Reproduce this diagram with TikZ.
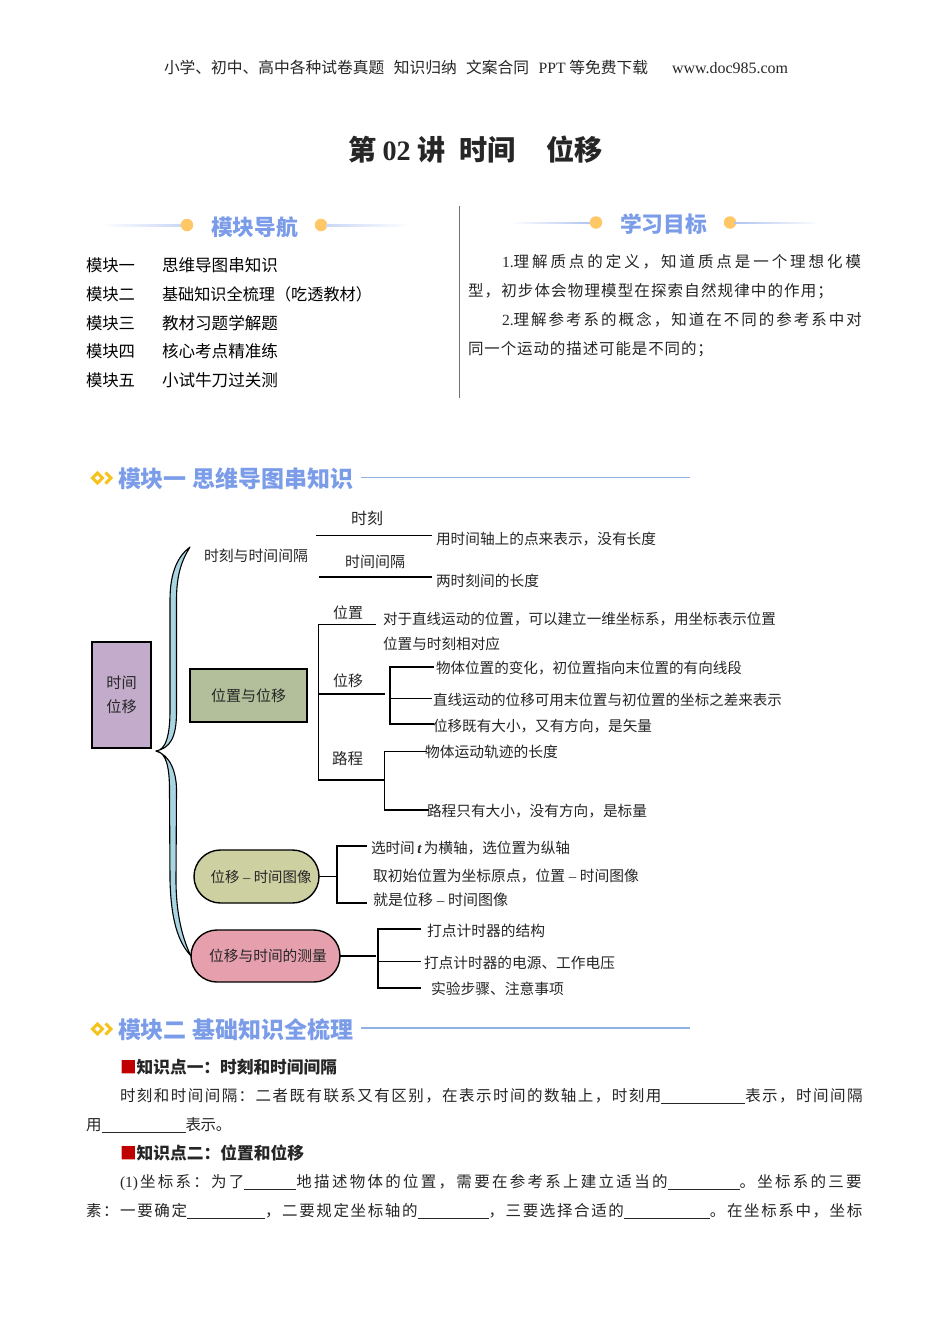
\documentclass[tikz,border=0pt]{standalone}
\usepackage{fontspec}
\usetikzlibrary{shapes.misc}
\setmainfont{Noto Sans CJK SC}
\newfontfamily\latf{Liberation Serif}
\newcommand\lat[1]{{\latf #1}}
\newcommand\blank[1]{\rule[-2.5pt]{#1pt}{0.7pt}}
\newsavebox\mb
\definecolor{headblue}{HTML}{7B9CE8}
\definecolor{linkblue}{HTML}{8FB2E2}
\definecolor{dotgold}{HTML}{FFC766}
\definecolor{diagold}{HTML}{F6C21C}
\definecolor{ink}{HTML}{262626}
\definecolor{braceblue}{HTML}{A9D5E2}
\definecolor{rootfill}{HTML}{C3ACCB}
\definecolor{olivefill}{HTML}{B3BF9A}
\definecolor{khakifill}{HTML}{CDD0A1}
\definecolor{pinkfill}{HTML}{E6A0AD}
\tikzset{
  txt/.style={anchor=base west,inner sep=0pt,outer sep=0pt,text=ink},
  wire/.style={draw=black,line width=1.4pt,line cap=rect},
  boxnode/.style={draw=black,line width=1.4pt,inner sep=0pt,text=ink},
  pill/.style={boxnode,rounded rectangle,rounded rectangle arc length=180},
  dot/.style={circle,fill=dotgold,minimum size=12.5pt,inner sep=0pt},
  bracefill/.style={draw=black,line width=1.1pt,fill=braceblue,line join=round},
}
% \T{name}{x1}{x2}{ymid}{text}: font size chosen so the text spans x1..x2
\newcommand\T[5]{%
  \pgfinterruptpicture\global\sbox\mb{\fontsize{20}{20}\selectfont #5}\endpgfinterruptpicture
  \edef\natw{\the\wd\mb}%
  \pgfmathsetmacro\fs{20*(#3-#2)/\natw}%
  \pgfmathsetmacro\yb{#4+0.42*\fs}%
  \node[txt] (#1) at (#2,\yb) {\fontsize{\fs}{\fs}\selectfont #5};%
}
% \LS{name}{x1}{x2}{ymid}{n}{text}: size 15.5, letter spacing chosen so the text spans x1..x2
\newcommand\LS[6]{%
  \pgfinterruptpicture\global\sbox\mb{\fontsize{15.5}{15.5}\selectfont #6}\endpgfinterruptpicture
  \edef\natw{\the\wd\mb}%
  \pgfmathsetmacro\pct{((#3-#2)-\natw)/(#5-1)/15.5*100}%
  \pgfmathsetmacro\yb{#4+0.42*15.5}%
  \node[txt] (#1) at (#2,\yb) {\fontsize{15.5}{15.5}\selectfont\addfontfeature{LetterSpace=\pct}#6};%
}
\newcommand\diamondmark[1]{%
  \draw[diagold,line width=3pt,line join=miter] (97.5,#1-5) -- (102.5,#1) -- (97.5,#1+5) -- (92.5,#1) -- cycle;
  \draw[diagold,line width=3pt,line join=miter] (105.5,#1-5.5) -- (111,#1) -- (105.5,#1+5.5);
}
\begin{document}
\begin{tikzpicture}[x=1pt,y=-1pt]
\useasboundingbox (0,0) rectangle (950,1344);
\fill[white] (0,0) rectangle (950,1344);

% page header and title
\T{hdr}{164}{648}{67}{小学、初中、高中各种试卷真题\hspace{0.6em}知识归纳\hspace{0.6em}文案合同\hspace{0.6em}\lat{PPT}~等免费下载}
\T{url}{672}{788}{67}{\lat{www.doc985.com}}
\T{title}{348}{603}{149}{\bfseries 第~\lat{02}~讲\hspace{0.5em}时间\hspace{1.1em}位移}

% left panel heading
\fill[left color=white,right color=headblue!40] (100,224) rectangle (182,226);
\node[dot] (navdotA) at (187,225) {};
\T{navhead}{211}{298}{226}{\bfseries\color{headblue}模块导航}
\node[dot] (navdotB) at (321,225) {};
\fill[right color=white,left color=headblue!40] (326,224) rectangle (410,226);

% navigation rows
\T{navAa}{86}{135}{265}{\color{black}模块一}
\T{navAb}{162}{278}{265}{\color{black}思维导图串知识}
\T{navBa}{86}{135}{294}{\color{black}模块二}
\T{navBb}{162}{372}{294}{\color{black}基础知识全梳理（吃透教材）}
\T{navCa}{86}{135}{323}{\color{black}模块三}
\T{navCb}{162}{278}{323}{\color{black}教材习题学解题}
\T{navDa}{86}{135}{351}{\color{black}模块四}
\T{navDb}{162}{278}{351}{\color{black}核心考点精准练}
\T{navEa}{86}{135}{380}{\color{black}模块五}
\T{navEb}{162}{278}{380}{\color{black}小试牛刀过关测}

% divider
\coordinate (divA) at (459.5,206);
\coordinate (divB) at (459.5,398);
\draw[black!55,line width=1.3pt] (divA) -- (divB);

% right panel
\fill[left color=white,right color=headblue!60] (510,222) rectangle (592,223.4);
\node[dot] (goaldotA) at (596,222.5) {};
\T{goalhead}{620}{707}{223}{\bfseries\color{headblue}学习目标}
\node[dot] (goaldotB) at (730,222.5) {};
\fill[right color=white,left color=headblue!60] (734,222) rectangle (820,223.4);
\LS{goalA}{502}{864}{261}{20}{\lat{1.}理解质点的定义，知道质点是一个理想化模}
\LS{goalB}{468}{833}{290}{22}{型，初步体会物理模型在探索自然规律中的作用；}
\LS{goalC}{502}{864}{319}{21}{\lat{2.}理解参考系的概念，知道在不同的参考系中对}
\LS{goalD}{468}{713}{348}{15}{同一个运动的描述可能是不同的；}

% module one heading
\diamondmark{478}
\T{modA}{118}{353}{478}{\bfseries\color{headblue}模块一~思维导图串知识}
\coordinate (modAa) at (361,477.5);
\coordinate (modAb) at (690,477.5);
\draw[linkblue,line width=1.4pt] (modAa) -- (modAb);

% mind map: main nodes
\node[boxnode,fill=rootfill,minimum width=59pt,minimum height=106pt,align=center,font=\fontsize{15.2}{24.5}\selectfont] (root) at (121.5,695)
  {时间\\位移};
\node[boxnode,fill=olivefill,minimum width=117pt,minimum height=53pt] (posdisp) at (248.5,695.5)
  {\fontsize{15}{15}\selectfont 位置与位移};
\node[pill,fill=khakifill,minimum width=125pt,minimum height=53pt] (xtgraph) at (256.5,876.5)
  {\hspace{9pt}\fontsize{14.4}{15}\selectfont 位移\lat{ – }时间图像};
\node[pill,fill=pinkfill,minimum width=149pt,minimum height=52pt] (measure) at (265.5,956)
  {\hspace{5pt}\fontsize{14.7}{15}\selectfont 位移与时间的测量};
\T{timeint}{204}{308}{555}{时刻与时间间隔}

% brace
\coordinate (bracetip) at (156,751);
\coordinate (braceup) at (190,547);
\coordinate (bracedown) at (191,956);
\draw[bracefill] (bracetip) .. controls (166,750) and (170,735) .. (170,710)
  -- (170,600) .. controls (170,572) and (178,556) .. (braceup)
  .. controls (182,560) and (176.5,574) .. (176.5,600)
  -- (176.5,712) .. controls (176.5,738) and (170,748) .. (bracetip) -- cycle;
\draw[bracefill] (bracetip) .. controls (167,752) and (169.5,770) .. (169.5,790)
  -- (170,880) .. controls (171,920) and (178,942) .. (bracedown)
  .. controls (183,940) and (176,915) .. (176,880)
  -- (176.5,790) .. controls (176.5,772) and (170,755) .. (bracetip) -- cycle;

% moment and interval
\T{tmA}{351}{383}{518}{时刻}
\coordinate (tmAa) at (316.5,535.5);
\coordinate (tmAb) at (431,535.5);
\draw[wire] (tmAa) -- (tmAb);
\T{tmB}{436}{656}{538}{用时间轴上的点来表示，没有长度}
\T{tmC}{345}{405}{561}{时间间隔}
\coordinate (tmCa) at (319.5,577);
\coordinate (tmCb) at (431,577);
\draw[wire] (tmCa) -- (tmCb);
\T{tmD}{436}{539}{580}{两时刻间的长度}

% position, displacement, path
\coordinate (spine) at (318.5,624.5);
\coordinate (spineEnd) at (318.5,780);
\coordinate (posEnd) at (375,624.5);
\coordinate (dispStart) at (319,694);
\coordinate (dispEnd) at (384,694);
\coordinate (pathEnd) at (384.5,780);
\draw[wire] (posEnd) -- (spine) -- (spineEnd) -- (pathEnd);
\draw[wire] (dispStart) -- (dispEnd);
\T{lbPos}{333}{363}{612}{位置}
\T{lbDisp}{333}{363}{680}{位移}
\T{lbPath}{332}{363}{758}{路程}
\T{posA}{383}{776}{618}{对于直线运动的位置，可以建立一维坐标系，用坐标表示位置}
\T{posB}{383}{500}{643}{位置与时刻相对应}

\coordinate (dbTop) at (390,667);
\coordinate (dbBot) at (390,724);
\coordinate (dbMid) at (390,698.5);
\coordinate (dbTopE) at (433,667);
\coordinate (dbMidE) at (431,698.5);
\coordinate (dbBotE) at (433,724);
\draw[wire] (dbTopE) -- (dbTop) -- (dbBot) -- (dbBotE);
\draw[wire] (dbMid) -- (dbMidE);
\T{dispA}{436}{742}{667}{物体位置的变化，初位置指向末位置的有向线段}
\T{dispB}{433}{782}{699}{直线运动的位移可用末位置与初位置的坐标之差来表示}
\T{dispC}{433}{652}{725}{位移既有大小，又有方向，是矢量}

\coordinate (pbTop) at (384.5,751.5);
\coordinate (pbBot) at (384.5,810);
\coordinate (pbTopE) at (426,751.5);
\coordinate (pbBotE) at (428,810);
\draw[wire] (pbTopE) -- (pbTop) -- (pbBot) -- (pbBotE);
\T{pathA}{425}{558}{751}{物体运动轨迹的长度}
\T{pathB}{427}{647}{810}{路程只有大小，没有方向，是标量}

% x-t graph
\coordinate (gJ) at (337,876.5);
\coordinate (gTop) at (337,846);
\coordinate (gBot) at (337,903);
\coordinate (gTopE) at (366,846);
\coordinate (gBotE) at (366,903);
\draw[wire] (xtgraph.east) -- (gJ);
\draw[wire] (gTopE) -- (gTop) -- (gBot) -- (gBotE);
\T{gA}{371}{570}{847}{选时间\lat{\bfseries\itshape\,t\,}为横轴，选位置为纵轴}
\T{gB}{373}{639}{875}{取初始位置为坐标原点，位置\lat{ – }时间图像}
\T{gC}{373}{508}{899}{就是位移\lat{ – }时间图像}

% measurement
\coordinate (mS) at (375,956);
\coordinate (mTop) at (378,929);
\coordinate (mMid) at (378,961.5);
\coordinate (mBot) at (378,988);
\coordinate (mTopE) at (420,929);
\coordinate (mMidE) at (420,961.5);
\coordinate (mBotE) at (420,988);
\draw[wire] (measure.east) -- (mS);
\draw[wire] (mTopE) -- (mTop) -- (mBot) -- (mBotE);
\draw[wire] (mMid) -- (mMidE);
\T{mA}{427}{545}{930}{打点计时器的结构}
\T{mB}{424}{615}{962}{打点计时器的电源、工作电压}
\T{mC}{431}{564}{988}{实验步骤、注意事项}

% module two heading
\diamondmark{1029}
\T{modB}{118}{353}{1029}{\bfseries\color{headblue}模块二~基础知识全梳理}
\coordinate (modBa) at (361,1028);
\coordinate (modBb) at (690,1028);
\draw[linkblue,line width=1.4pt] (modBa) -- (modBb);

% knowledge points
\T{kpA}{120}{337}{1066}{\bfseries{\color[HTML]{C00000}■}知识点一：时刻和时间间隔}
\LS{bodyA}{120}{864}{1095}{39}{时刻和时间间隔：二者既有联系又有区别，在表示时间的数轴上，时刻用\blank{84}表示，时间间隔}
\LS{bodyB}{86}{231}{1124}{4}{用\blank{84}表示。}
\T{kpB}{120}{304}{1152}{\bfseries{\color[HTML]{C00000}■}知识点二：位置和位移}
\LS{bodyC}{120}{864}{1181}{33}{\lat{(1)}\hspace{2pt}坐标系：为了\blank{52}地描述物体的位置，需要在参考系上建立适当的\blank{72}。坐标系的三要}
\LS{bodyD}{86}{864}{1210}{30}{素：一要确定\blank{78}，二要规定坐标轴的\blank{71}，三要选择合适的\blank{86}。在坐标系中，坐标}
\end{tikzpicture}
\end{document}
